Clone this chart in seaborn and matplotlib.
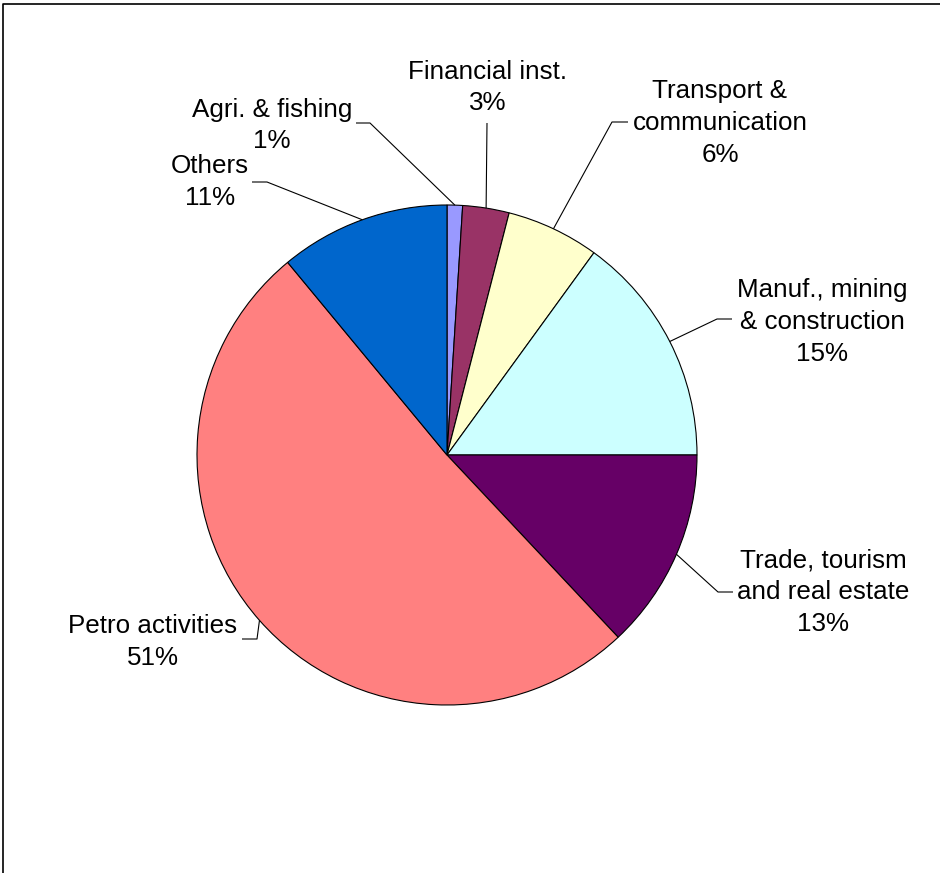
import numpy as np
import matplotlib
matplotlib.use("Agg")
import matplotlib.pyplot as plt
import seaborn as sns

# Sector shares (%), clockwise from 12 o'clock
sectors = ["Agri. & fishing", "Financial inst.", "Transport &\ncommunication",
           "Manuf., mining\n& construction", "Trade, tourism\nand real estate",
           "Petro activities", "Others"]
shares = [1, 3, 6, 15, 13, 51, 11]
colors = ["#9999FF", "#993366", "#FFFFCC", "#CCFFFF", "#660066", "#FF8080", "#0066CC"]

# Label text centres and leader elbows / ends, in pixel coordinates (y down)
label_xy = [(272, 125.5), (488, 87.5), (720, 123), (822, 322), (823, 592), (153, 642), (210, 182)]
elbow_xy = [(370, 123), (487, 123), (612, 122), (717, 319), (718, 592), (257, 639), (267, 182)]
end_xy = [(356, 123), (487, 123), (628, 122), (732, 319), (733, 592), (242, 639), (252, 182)]

W, H = 940, 873
CX, CY, R = 447, 455, 250

sns.set_theme(style="white")
plt.rcParams["font.family"] = ["Liberation Sans", "DejaVu Sans"]

fig = plt.figure(figsize=(W / 100, H / 100), dpi=100)
ax = fig.add_axes([0, 0, 1, 1])
ax.set_xlim(0, W)
ax.set_ylim(0, H)
ax.set_aspect("equal")
ax.axis("off")


def fy(y):
    return H - y


wedges, _ = ax.pie(shares, colors=colors, startangle=90, counterclock=False,
                   center=(CX, fy(CY)), radius=R,
                   wedgeprops=dict(edgecolor="black", linewidth=0.8))
ax.set_xlim(0, W)
ax.set_ylim(0, H)

total = sum(shares)
for w, name, val, (lx, ly), (ex, ey), (tx, ty) in zip(wedges, sectors, shares, label_xy, elbow_xy, end_xy):
    mid = np.deg2rad((w.theta1 + w.theta2) / 2)
    ax0 = CX + R * np.cos(mid)
    ay0 = fy(CY) + R * np.sin(mid)
    ax.plot([ax0, ex, tx], [ay0, fy(ey), fy(ty)], color="black", lw=0.8,
            solid_capstyle="butt", zorder=3)
    pct = f"{round(100 * val / total)}%"
    ax.text(lx, fy(ly), f"{name}\n{pct}", ha="center", va="center",
            fontsize=18.7, linespacing=1.4, color="black", zorder=4)

# Chart-area border (open to the right and bottom)
ax.plot([3, 3, W + 5], [-5, fy(4), fy(4)], color="black", lw=1.2, clip_on=False)

fig.savefig("out.png", dpi=100)
